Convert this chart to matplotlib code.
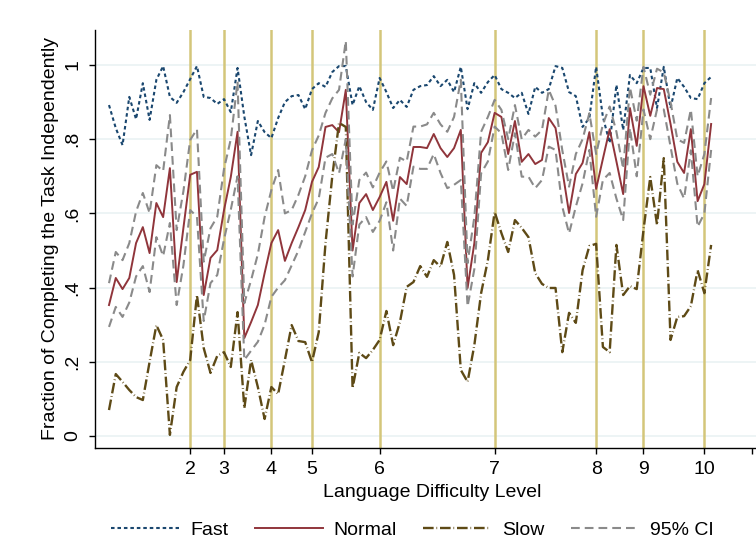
import matplotlib
matplotlib.use("Agg")
import matplotlib.pyplot as plt
import numpy as np

plt.rcParams['font.family'] = ['Liberation Sans', 'DejaVu Sans']

# share of tasks completed independently, by task (ordered by difficulty)
fast = [0.892, 0.830, 0.784, 0.914, 0.854, 0.951, 0.852, 0.960, 0.997, 0.914,
        0.898, 0.927, 0.962, 0.997, 0.914, 0.911, 0.895, 0.908, 0.873, 0.992,
        0.861, 0.757, 0.849, 0.819, 0.803, 0.857, 0.900, 0.916, 0.919, 0.881,
        0.935, 0.951, 0.941, 0.981, 0.997, 0.997, 0.892, 0.943, 0.900, 0.879,
        0.965, 0.927, 0.884, 0.906, 0.887, 0.933, 0.943, 0.946, 0.970, 0.943,
        0.960, 0.927, 0.995, 0.881, 0.951, 0.925, 0.954, 0.973, 0.935, 0.925,
        0.911, 0.925, 0.868, 0.941, 0.925, 0.935, 0.997, 0.992, 0.927, 0.916,
        0.833, 0.857, 0.995, 0.860, 0.790, 0.946, 0.825, 0.973, 0.951, 0.992,
        0.992, 0.884, 0.995, 0.884, 0.965, 0.941, 0.911, 0.908, 0.951, 0.968]

normal = [0.353, 0.426, 0.396, 0.426, 0.520, 0.563, 0.493, 0.628, 0.590, 0.722,
          0.415, 0.561, 0.704, 0.712, 0.380, 0.480, 0.501, 0.609, 0.698, 0.820,
          0.264, 0.307, 0.353, 0.439, 0.520, 0.555, 0.472, 0.520, 0.563, 0.609,
          0.685, 0.725, 0.833, 0.838, 0.819, 0.933, 0.500, 0.628, 0.652, 0.609,
          0.644, 0.685, 0.580, 0.698, 0.679, 0.779, 0.779, 0.776, 0.814, 0.776,
          0.752, 0.776, 0.825, 0.399, 0.520, 0.763, 0.792, 0.871, 0.860, 0.760,
          0.849, 0.739, 0.760, 0.733, 0.744, 0.857, 0.830, 0.717, 0.601, 0.706,
          0.736, 0.819, 0.666, 0.747, 0.827, 0.740, 0.652, 0.884, 0.782, 0.943,
          0.863, 0.938, 0.935, 0.841, 0.739, 0.709, 0.827, 0.633, 0.679, 0.841]

slow = [0.070, 0.167, 0.146, 0.124, 0.105, 0.097, 0.200, 0.299, 0.259, 0.003,
        0.132, 0.173, 0.205, 0.380, 0.237, 0.170, 0.216, 0.226, 0.186, 0.334,
        0.075, 0.205, 0.132, 0.046, 0.132, 0.113, 0.205, 0.299, 0.256, 0.253,
        0.199, 0.280, 0.520, 0.700, 0.844, 0.833, 0.129, 0.224, 0.210, 0.232,
        0.259, 0.337, 0.245, 0.307, 0.402, 0.415, 0.458, 0.429, 0.474, 0.456,
        0.523, 0.434, 0.178, 0.146, 0.245, 0.385, 0.474, 0.604, 0.547, 0.496,
        0.582, 0.561, 0.536, 0.439, 0.410, 0.399, 0.399, 0.226, 0.332, 0.305,
        0.447, 0.512, 0.518, 0.240, 0.226, 0.515, 0.380, 0.404, 0.396, 0.555,
        0.698, 0.569, 0.749, 0.259, 0.321, 0.323, 0.350, 0.447, 0.385, 0.515]

ci_hi = [0.412, 0.496, 0.474, 0.520, 0.605, 0.655, 0.601, 0.730, 0.714, 0.865,
         0.555, 0.660, 0.798, 0.827, 0.470, 0.560, 0.591, 0.720, 0.800, 0.955,
         0.358, 0.420, 0.490, 0.590, 0.663, 0.717, 0.600, 0.609, 0.650, 0.700,
         0.770, 0.810, 0.871, 0.910, 0.933, 1.065, 0.570, 0.690, 0.710, 0.670,
         0.710, 0.740, 0.660, 0.750, 0.740, 0.834, 0.834, 0.840, 0.871, 0.840,
         0.820, 0.860, 0.960, 0.466, 0.590, 0.820, 0.860, 0.906, 0.879, 0.800,
         0.892, 0.800, 0.825, 0.807, 0.825, 0.933, 0.890, 0.770, 0.672, 0.760,
         0.800, 0.870, 0.760, 0.840, 0.888, 0.820, 0.720, 0.940, 0.850, 0.995,
         0.920, 0.990, 0.980, 0.900, 0.800, 0.790, 0.880, 0.700, 0.760, 0.911]

ci_lo = [0.294, 0.348, 0.321, 0.360, 0.430, 0.458, 0.388, 0.536, 0.485, 0.574,
         0.353, 0.460, 0.609, 0.591, 0.310, 0.412, 0.434, 0.530, 0.610, 0.700,
         0.205, 0.230, 0.254, 0.300, 0.375, 0.400, 0.420, 0.460, 0.500, 0.550,
         0.600, 0.640, 0.750, 0.760, 0.708, 0.800, 0.430, 0.570, 0.590, 0.550,
         0.580, 0.630, 0.500, 0.640, 0.620, 0.726, 0.720, 0.720, 0.760, 0.709,
         0.668, 0.677, 0.690, 0.349, 0.450, 0.708, 0.740, 0.834, 0.816, 0.717,
         0.816, 0.699, 0.699, 0.668, 0.690, 0.780, 0.771, 0.618, 0.546, 0.618,
         0.681, 0.771, 0.591, 0.690, 0.709, 0.640, 0.582, 0.830, 0.700, 0.880,
         0.800, 0.880, 0.880, 0.780, 0.680, 0.640, 0.770, 0.564, 0.600, 0.771]

# first task of each difficulty level
level_pos = [12, 17, 24, 30, 40, 57, 72, 79, 88]
level_labels = ["2", "3", "4", "5", "6", "7", "8", "9", "10"]

x = np.arange(len(normal))
fs = 14

fig = plt.figure(figsize=(7.56, 5.41), dpi=100)
ax = fig.add_axes([95 / 756, 93 / 541, 675 / 756, 418 / 541])

for yv in [0, 0.2, 0.4, 0.6, 0.8, 1.0]:
    ax.axhline(yv, color='#e8f1f2', lw=1.1, zorder=0)
for p in level_pos:
    ax.axvline(p, color='#d4c67a', lw=1.8, zorder=1)

ax.plot(x, fast, color='#1a476f', lw=1.5, dashes=(1.7, 1.4), label='Fast', zorder=3)
ax.plot(x, normal, color='#90353b', lw=1.4, label='Normal', zorder=3)
ax.plot(x, slow, color='#5e4a16', lw=1.7, dashes=(4.5, 1.2, 0.3, 1.2), label='Slow', zorder=3)
ax.plot(x, ci_hi, color='#8a8a8a', lw=1.5, dashes=(4.2, 2.4), label='95% CI', zorder=3)
ax.plot(x, ci_lo, color='#8a8a8a', lw=1.5, dashes=(4.2, 2.4), zorder=3)

ax.set_xlim(-2.07, 97.7)
ax.set_ylim(-0.0323, 1.0943)

ax.set_xticks(level_pos + [95])
ax.set_xticklabels(level_labels + [""])
ax.set_yticks([0, 0.2, 0.4, 0.6, 0.8, 1.0])
ax.set_yticklabels(["0", ".2", ".4", ".6", ".8", "1"], rotation=90, va='center')
ax.tick_params(axis='both', length=4, width=1, labelsize=fs, color='black')
ax.tick_params(axis='y', pad=6)
ax.tick_params(axis='x', pad=5)

for side in ['top', 'right']:
    ax.spines[side].set_visible(False)
for side in ['left', 'bottom']:
    ax.spines[side].set_linewidth(1.0)

ax.set_xlabel("Language Difficulty Level", fontsize=fs, labelpad=5)
ax.set_ylabel("Fraction of Completing the Task Independently", fontsize=fs, labelpad=4)

fig.legend(loc='center', bbox_to_anchor=(0.5456, 0.02), ncol=4, frameon=False,
           fontsize=fs, handlelength=3.5, handletextpad=0.57, columnspacing=1.34)

fig.savefig("out.png", dpi=100)
